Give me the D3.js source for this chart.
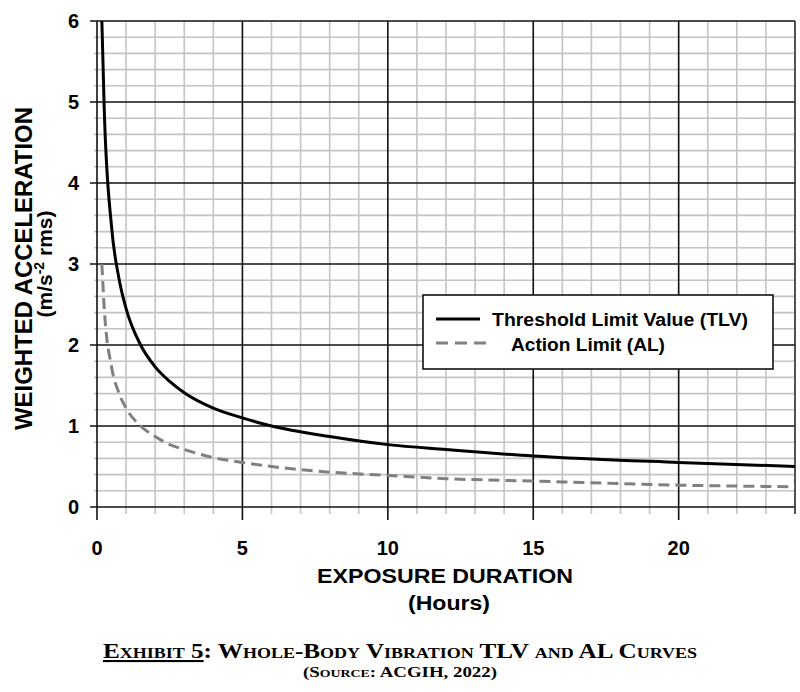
<!DOCTYPE html>
<html>
<head>
<meta charset="utf-8">
<script src="https://cdn.jsdelivr.net/npm/d3@7"></script>
<style>
  body { margin: 0; background: #fff; }
  text { font-family: "Liberation Sans", Arial, sans-serif; }
  text.serif { font-family: "Liberation Serif", "DejaVu Serif", serif; font-variant: small-caps; }
</style>
</head>
<body>
<script>
// exposure hours and weighted acceleration
const hours = [0.167, 0.25, 0.5, 0.75, 1, 1.5, 2, 2.5, 3, 4, 5, 6, 8, 10, 12, 15, 20, 24];
const tlvValues = [6.0, 4.9, 3.46, 2.83, 2.45, 2.0, 1.73, 1.55, 1.41, 1.22, 1.1, 1.0, 0.87, 0.77, 0.71, 0.63, 0.55, 0.5];
const alValues = [3.0, 2.45, 1.73, 1.41, 1.22, 1.0, 0.87, 0.77, 0.71, 0.61, 0.55, 0.5, 0.43, 0.39, 0.35, 0.32, 0.27, 0.25];
const xTicks = [0, 5, 10, 15, 20];
const yTicks = [0, 1, 2, 3, 4, 5, 6];
const seriesNames = ["Threshold Limit Value (TLV)", "Action Limit (AL)"];

const width = 800;
const height = 692;
const plotLeft = 97, plotRight = 795, plotTop = 21, plotBottom = 507;

const x = d3.scaleLinear().domain([0, 24]).range([plotLeft, plotRight]);
const y = d3.scaleLinear().domain([0, 6]).range([plotBottom, plotTop]);

const svg = d3.select("body").append("svg")
  .attr("width", width)
  .attr("height", height);

// minor grid
const g = svg.append("g");
g.selectAll(".vminor")
  .data(d3.range(1, 25).filter(d => d % 5 !== 0))
  .enter().append("line")
  .attr("x1", d => x(d)).attr("x2", d => x(d))
  .attr("y1", plotTop).attr("y2", plotBottom + 7)
  .attr("stroke", "#c4c4c4").attr("stroke-width", 1.6);
g.selectAll(".hminor")
  .data(d3.range(1, 30).filter(d => d % 5 !== 0).map(d => d / 5))
  .enter().append("line")
  .attr("x1", plotLeft - 3).attr("x2", plotRight)
  .attr("y1", d => y(d)).attr("y2", d => y(d))
  .attr("stroke", "#c4c4c4").attr("stroke-width", 1.6);

// major grid
g.selectAll(".vmajor")
  .data(xTicks)
  .enter().append("line")
  .attr("x1", d => x(d)).attr("x2", d => x(d))
  .attr("y1", plotTop).attr("y2", plotBottom + 13)
  .attr("stroke", "#111").attr("stroke-width", 1.6);
g.selectAll(".hmajor")
  .data(yTicks)
  .enter().append("line")
  .attr("x1", plotLeft - 7).attr("x2", plotRight)
  .attr("y1", d => y(d)).attr("y2", d => y(d))
  .attr("stroke", "#111").attr("stroke-width", 1.6);
g.append("line")
  .attr("x1", plotRight).attr("x2", plotRight)
  .attr("y1", plotTop).attr("y2", plotBottom + 7)
  .attr("stroke", "#333").attr("stroke-width", 1.6);

// tick labels
svg.selectAll(".ylab")
  .data(yTicks)
  .enter().append("text")
  .attr("x", 79).attr("y", d => y(d) + 7)
  .attr("text-anchor", "end")
  .attr("font-size", 20).attr("font-weight", "bold")
  .text(d => d);
svg.selectAll(".xlab")
  .data(xTicks)
  .enter().append("text")
  .attr("x", d => x(d)).attr("y", 555)
  .attr("text-anchor", "middle")
  .attr("font-size", 20).attr("font-weight", "bold")
  .text(d => d);

// axis titles
svg.append("text")
  .attr("x", 317).attr("y", 583)
  .attr("font-size", 21).attr("font-weight", "bold")
  .attr("textLength", 256).attr("lengthAdjust", "spacingAndGlyphs")
  .text("EXPOSURE DURATION");
svg.append("text")
  .attr("x", 408).attr("y", 610)
  .attr("font-size", 20).attr("font-weight", "bold")
  .attr("textLength", 82).attr("lengthAdjust", "spacingAndGlyphs")
  .text("(Hours)");

svg.append("text")
  .attr("transform", "translate(32,430) rotate(-90)")
  .attr("font-size", 23).attr("font-weight", "bold")
  .attr("textLength", 323).attr("lengthAdjust", "spacingAndGlyphs")
  .text("WEIGHTED ACCELERATION");
const unit = svg.append("text")
  .attr("transform", "translate(52,264) rotate(-90)")
  .attr("text-anchor", "middle")
  .attr("font-size", 21).attr("font-weight", "bold");
unit.append("tspan").text("(m/s");
unit.append("tspan").attr("dy", -8).attr("font-size", 14).text("-2");
unit.append("tspan").attr("dy", 8).text("  rms)");

// curves
const tlv = hours.map((h, i) => [h, tlvValues[i]]);
const al = hours.map((h, i) => [h, alValues[i]]);
const line = d3.line()
  .x(d => x(d[0]))
  .y(d => y(d[1]))
  .curve(d3.curveMonotoneX);

svg.append("path")
  .datum(al)
  .attr("d", line)
  .attr("fill", "none")
  .attr("stroke", "#808080")
  .attr("stroke-width", 3)
  .attr("stroke-dasharray", "11,6");
svg.append("path")
  .datum(tlv)
  .attr("d", line)
  .attr("fill", "none")
  .attr("stroke", "#000")
  .attr("stroke-width", 3);

// legend
const legend = svg.append("g");
legend.append("rect")
  .attr("x", 423).attr("y", 295)
  .attr("width", 350).attr("height", 74)
  .attr("fill", "#fff")
  .attr("stroke", "#111").attr("stroke-width", 1.6);
legend.append("line")
  .attr("x1", 436).attr("x2", 480)
  .attr("y1", 319).attr("y2", 319)
  .attr("stroke", "#000").attr("stroke-width", 3);
legend.append("line")
  .attr("x1", 436).attr("x2", 490)
  .attr("y1", 343).attr("y2", 343)
  .attr("stroke", "#808080").attr("stroke-width", 3)
  .attr("stroke-dasharray", "12,7");
legend.append("text")
  .attr("x", 492).attr("y", 326)
  .attr("font-size", 18).attr("font-weight", "bold")
  .attr("textLength", 256).attr("lengthAdjust", "spacingAndGlyphs")
  .text(seriesNames[0]);
legend.append("text")
  .attr("x", 511).attr("y", 351)
  .attr("font-size", 18).attr("font-weight", "bold")
  .attr("textLength", 154).attr("lengthAdjust", "spacingAndGlyphs")
  .text(seriesNames[1]);

// caption
const cap = svg.append("text")
  .attr("class", "serif")
  .attr("x", 103).attr("y", 658)
  .attr("font-size", 21)
  .attr("font-weight", "bold")
  .attr("textLength", 594)
  .attr("lengthAdjust", "spacingAndGlyphs");
cap.append("tspan").attr("text-decoration", "underline").text("Exhibit 5");
cap.append("tspan").text(":  Whole-Body Vibration TLV and AL Curves");

svg.append("text")
  .attr("class", "serif")
  .attr("x", 303).attr("y", 677)
  .attr("font-size", 15)
  .attr("font-weight", "bold")
  .attr("textLength", 194)
  .attr("lengthAdjust", "spacingAndGlyphs")
  .text("(Source:  ACGIH, 2022)");
</script>
</body>
</html>
